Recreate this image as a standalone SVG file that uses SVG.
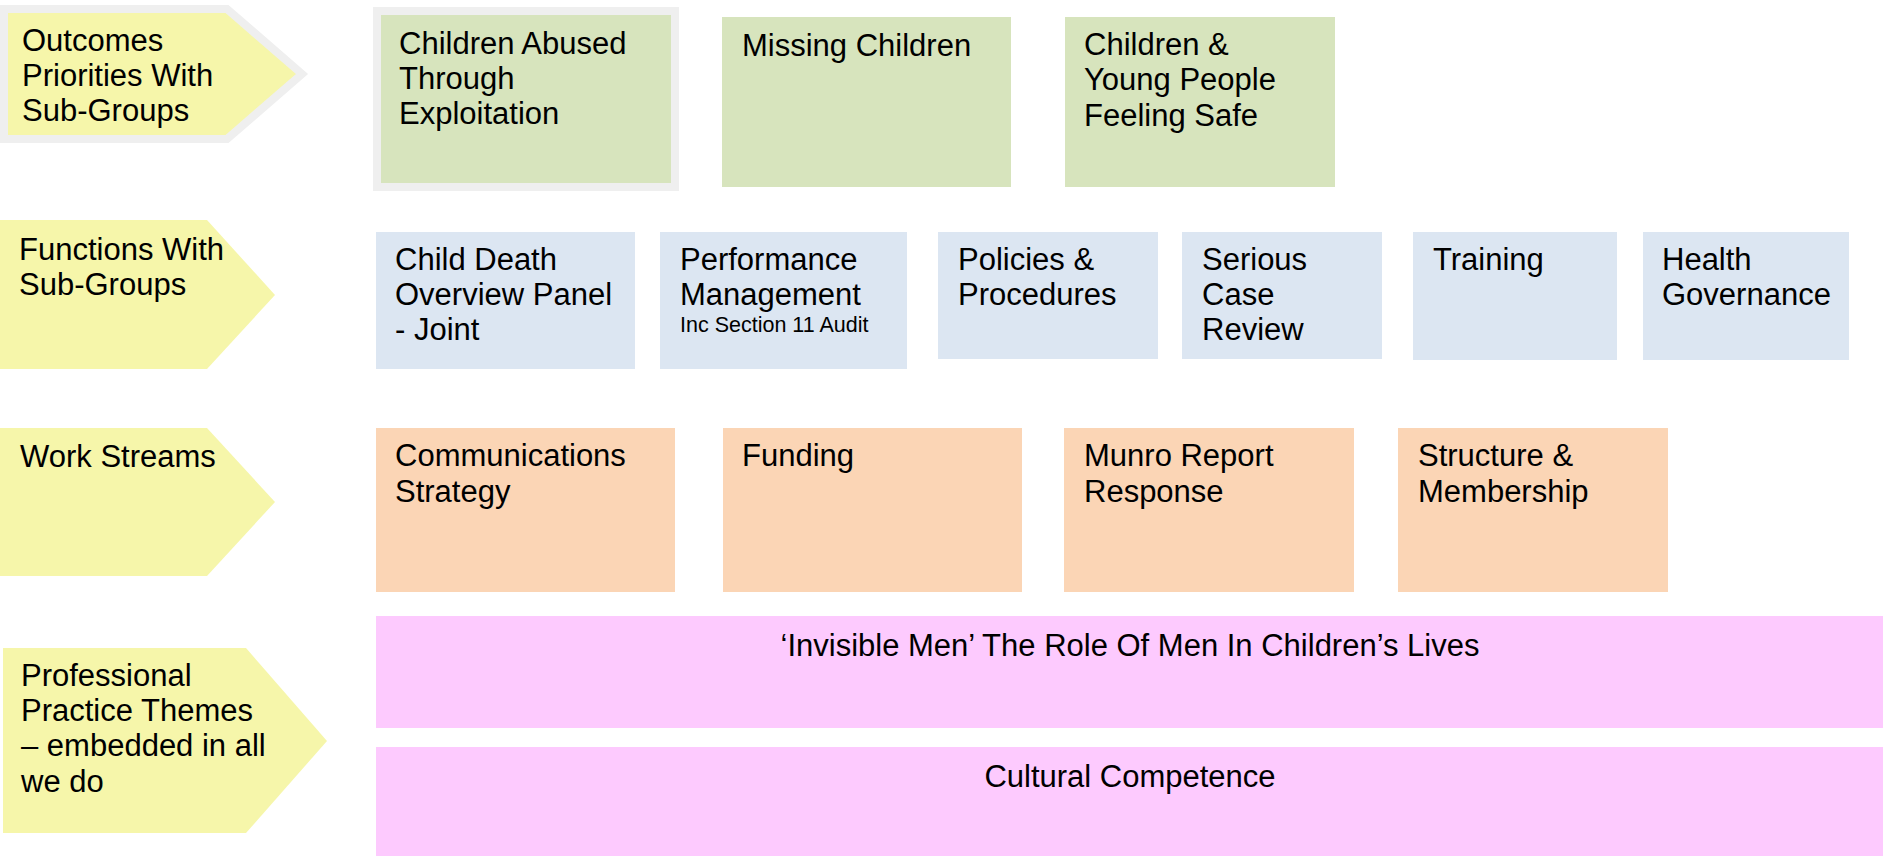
<svg xmlns="http://www.w3.org/2000/svg" width="1886" height="856" viewBox="0 0 1886 856">
<style>
text{font-family:"Liberation Sans",Arial,sans-serif;font-size:31px;fill:#000}
.small{font-size:21.5px}
.lab{fill:#f6f6aa}
.g{fill:#d7e4bd}
.b{fill:#dce6f2}
.o{fill:#fbd5b5}
.p{fill:#fdcafe}
</style>
<rect width="1886" height="856" fill="#fff"/>
<g id="label-outcomes">
<polygon class="lab" points="4,9 227,9 302,74 227,139 4,139" stroke="#efefef" stroke-width="8" stroke-linejoin="miter"/>
<text x="22" y="51">Outcomes</text>
<text x="22" y="86">Priorities With</text>
<text x="22" y="121">Sub-Groups</text>
</g>
<g id="node-cae">
<rect class="g" x="377" y="11" width="298" height="176" stroke="#efefef" stroke-width="8"/>
<text x="399" y="54">Children Abused</text>
<text x="399" y="89">Through</text>
<text x="399" y="124">Exploitation</text>
</g>
<g id="node-missing">
<rect class="g" x="722" y="17" width="289" height="170"/>
<text x="742" y="56">Missing Children</text>
</g>
<g id="node-feeling-safe">
<rect class="g" x="1065" y="17" width="270" height="170"/>
<text x="1084" y="55">Children &amp;</text>
<text x="1084" y="90">Young People</text>
<text x="1084" y="126">Feeling Safe</text>
</g>
<g id="label-functions">
<polygon class="lab" points="0,220 207,220 275,295 207,369 0,369"/>
<text x="19" y="260">Functions With</text>
<text x="19" y="295">Sub-Groups</text>
</g>
<g id="node-cdop">
<rect class="b" x="376" y="232" width="259" height="137"/>
<text x="395" y="270">Child Death</text>
<text x="395" y="305">Overview Panel</text>
<text x="395" y="340">- Joint</text>
</g>
<g id="node-performance">
<rect class="b" x="660" y="232" width="247" height="137"/>
<text x="680" y="270">Performance</text>
<text x="680" y="305">Management</text>
<text class="small" x="680" y="332">Inc Section 11 Audit</text>
</g>
<g id="node-policies">
<rect class="b" x="938" y="232" width="220" height="127"/>
<text x="958" y="270">Policies &amp;</text>
<text x="958" y="305">Procedures</text>
</g>
<g id="node-scr">
<rect class="b" x="1182" y="232" width="200" height="127"/>
<text x="1202" y="270">Serious</text>
<text x="1202" y="305">Case</text>
<text x="1202" y="340">Review</text>
</g>
<g id="node-training">
<rect class="b" x="1413" y="232" width="204" height="128"/>
<text x="1433" y="270">Training</text>
</g>
<g id="node-health">
<rect class="b" x="1643" y="232" width="206" height="128"/>
<text x="1662" y="270">Health</text>
<text x="1662" y="305">Governance</text>
</g>
<g id="label-work">
<polygon class="lab" points="0,428 207,428 275,502 207,576 0,576"/>
<text x="20" y="467">Work Streams</text>
</g>
<g id="node-comms">
<rect class="o" x="376" y="428" width="299" height="164"/>
<text x="395" y="466">Communications</text>
<text x="395" y="502">Strategy</text>
</g>
<g id="node-funding">
<rect class="o" x="723" y="428" width="299" height="164"/>
<text x="742" y="466">Funding</text>
</g>
<g id="node-munro">
<rect class="o" x="1064" y="428" width="290" height="164"/>
<text x="1084" y="466">Munro Report</text>
<text x="1084" y="502">Response</text>
</g>
<g id="node-structure">
<rect class="o" x="1398" y="428" width="270" height="164"/>
<text x="1418" y="466">Structure &amp;</text>
<text x="1418" y="502">Membership</text>
</g>
<g id="label-practice">
<polygon class="lab" points="3,648 246,648 327,741 246,833 3,833"/>
<text x="21" y="686">Professional</text>
<text x="21" y="721">Practice Themes</text>
<text x="21" y="756">– embedded in all</text>
<text x="21" y="792">we do</text>
</g>
<g id="node-invisible-men">
<rect class="p" x="376" y="616" width="1507" height="112"/>
<text x="1130" y="656" text-anchor="middle">‘Invisible Men’ The Role Of Men In Children’s Lives</text>
</g>
<g id="node-cultural">
<rect class="p" x="376" y="747" width="1507" height="109"/>
<text x="1130" y="787" text-anchor="middle">Cultural Competence</text>
</g>
<g id="connectors"></g>
</svg>
